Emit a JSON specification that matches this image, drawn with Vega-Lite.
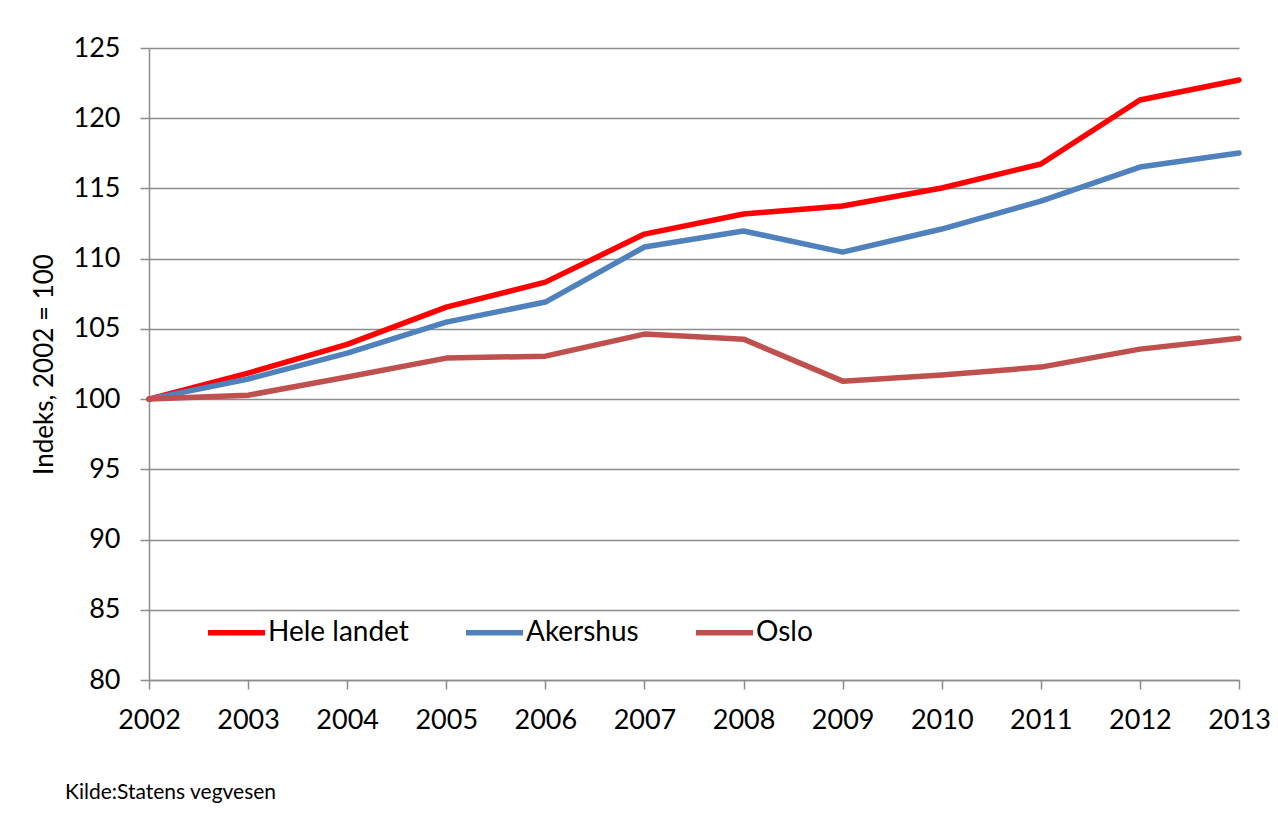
{
  "$schema": "https://vega.github.io/schema/vega-lite/v6.json",
  "width": 1090,
  "height": 632,
  "autosize": {"type": "none"},
  "padding": {"left": 149, "top": 48, "right": 39, "bottom": 134},
  "background": "white",
  "title": {
    "text": "Kilde:Statens vegvesen",
    "orient": "bottom",
    "anchor": "start",
    "frame": "group",
    "dx": -84,
    "offset": 49,
    "font": "Lato",
    "fontSize": 21,
    "fontWeight": "normal",
    "color": "#000000"
  },
  "data": {
    "values": [
      {"year": 2002, "series": "Hele landet", "value": 100},
      {"year": 2003, "series": "Hele landet", "value": 101.85},
      {"year": 2004, "series": "Hele landet", "value": 103.9},
      {"year": 2005, "series": "Hele landet", "value": 106.55},
      {"year": 2006, "series": "Hele landet", "value": 108.33},
      {"year": 2007, "series": "Hele landet", "value": 111.75},
      {"year": 2008, "series": "Hele landet", "value": 113.18},
      {"year": 2009, "series": "Hele landet", "value": 113.75},
      {"year": 2010, "series": "Hele landet", "value": 115.03},
      {"year": 2011, "series": "Hele landet", "value": 116.74},
      {"year": 2012, "series": "Hele landet", "value": 121.3},
      {"year": 2013, "series": "Hele landet", "value": 122.72},
      {"year": 2002, "series": "Akershus", "value": 100},
      {"year": 2003, "series": "Akershus", "value": 101.43},
      {"year": 2004, "series": "Akershus", "value": 103.28},
      {"year": 2005, "series": "Akershus", "value": 105.48},
      {"year": 2006, "series": "Akershus", "value": 106.91},
      {"year": 2007, "series": "Akershus", "value": 110.83},
      {"year": 2008, "series": "Akershus", "value": 111.97},
      {"year": 2009, "series": "Akershus", "value": 110.47},
      {"year": 2010, "series": "Akershus", "value": 112.11},
      {"year": 2011, "series": "Akershus", "value": 114.1},
      {"year": 2012, "series": "Akershus", "value": 116.52},
      {"year": 2013, "series": "Akershus", "value": 117.52},
      {"year": 2002, "series": "Oslo", "value": 100},
      {"year": 2003, "series": "Oslo", "value": 100.28},
      {"year": 2004, "series": "Oslo", "value": 101.57},
      {"year": 2005, "series": "Oslo", "value": 102.92},
      {"year": 2006, "series": "Oslo", "value": 103.06},
      {"year": 2007, "series": "Oslo", "value": 104.63},
      {"year": 2008, "series": "Oslo", "value": 104.27},
      {"year": 2009, "series": "Oslo", "value": 101.28},
      {"year": 2010, "series": "Oslo", "value": 101.71},
      {"year": 2011, "series": "Oslo", "value": 102.28},
      {"year": 2012, "series": "Oslo", "value": 103.56},
      {"year": 2013, "series": "Oslo", "value": 104.34}
    ]
  },
  "mark": {"type": "line", "strokeWidth": 5.5, "strokeCap": "round", "strokeJoin": "round"},
  "encoding": {
    "x": {
      "field": "year",
      "type": "quantitative",
      "scale": {"domain": [2002, 2013], "nice": false, "zero": false},
      "axis": {
        "values": [2002, 2003, 2004, 2005, 2006, 2007, 2008, 2009, 2010, 2011, 2012, 2013],
        "format": "d",
        "title": null,
        "grid": false,
        "domainColor": "#8c8c8c",
        "domainWidth": 1.5,
        "tickColor": "#8c8c8c",
        "tickWidth": 1.5,
        "tickSize": 9,
        "labelPadding": 18,
        "labelFont": "Lato",
        "labelFontSize": 27,
        "labelColor": "#000000",
        "labelFlush": false,
        "labelOverlap": false
      }
    },
    "y": {
      "field": "value",
      "type": "quantitative",
      "scale": {"domain": [80, 125], "nice": false, "zero": false},
      "axis": {
        "values": [80, 85, 90, 95, 100, 105, 110, 115, 120, 125],
        "title": "Indeks, 2002 = 100",
        "titleFont": "Lato",
        "titleFontSize": 26,
        "titleFontWeight": "normal",
        "titleColor": "#000000",
        "titlePadding": 16,
        "grid": true,
        "gridColor": "#8c8c8c",
        "gridWidth": 1.5,
        "domainColor": "#8c8c8c",
        "domainWidth": 1.5,
        "tickColor": "#8c8c8c",
        "tickWidth": 1.5,
        "tickSize": 9,
        "labelPadding": 20,
        "labelFont": "Lato",
        "labelFontSize": 27,
        "labelColor": "#000000",
        "labelFlush": false
      }
    },
    "color": {
      "field": "series",
      "type": "nominal",
      "sort": ["Hele landet", "Akershus", "Oslo"],
      "scale": {"domain": ["Hele landet", "Akershus", "Oslo"], "range": ["#ff0000", "#4f81bd", "#c0504d"]},
      "legend": {
        "title": null,
        "orient": "none",
        "legendX": 56,
        "legendY": 553,
        "direction": "horizontal",
        "symbolType": "stroke",
        "symbolSize": 3249,
        "symbolStrokeWidth": 5.5,
        "labelFont": "Lato",
        "labelFontSize": 28,
        "labelColor": "#000000",
        "labelOffset": 0,
        "columnPadding": 46
      }
    }
  },
  "config": {
    "view": {"stroke": null}
  }
}
